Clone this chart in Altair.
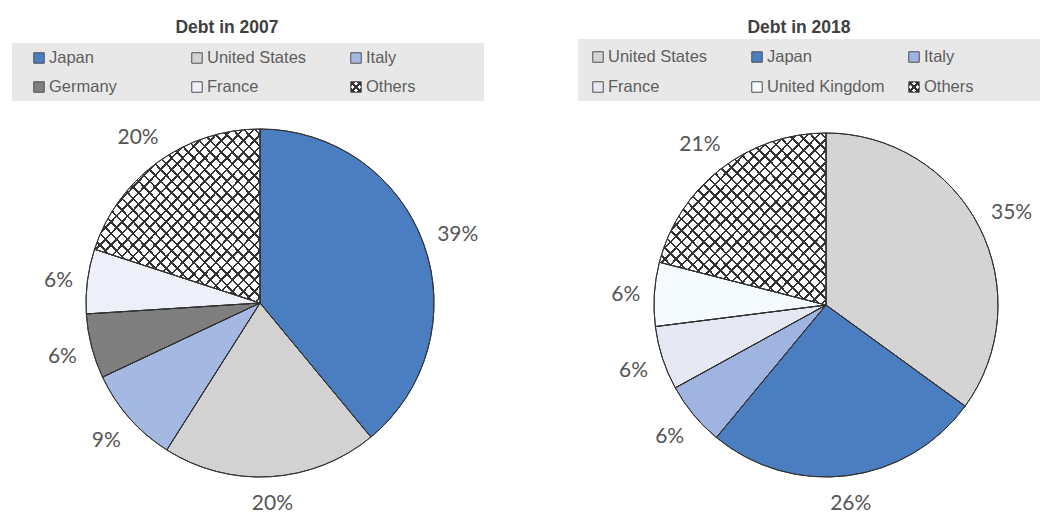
import altair as alt
import pandas as pd

# ---------------- data ----------------
titles = ["Debt in 2007", "Debt in 2018"]
years = ["2007", "2018"]
countries_2007 = ["Japan", "United States", "Italy", "Germany", "France", "Others"]
shares_2007 = [39, 20, 9, 6, 6, 20]
countries_2018 = ["United States", "Japan", "Italy", "France", "United Kingdom", "Others"]
shares_2018 = [35, 26, 6, 6, 6, 21]

# ---------------- styles ----------------
palette = {
    "2007": {"Japan": "#4A7EC0", "United States": "#D2D2D2", "Italy": "#A4B8E2",
             "Germany": "#7F7F7F", "France": "#EDF0F8", "Others": "#FFFFFF"},
    "2018": {"United States": "#D4D4D4", "Japan": "#4A7EC0", "Italy": "#9FB4E0",
             "France": "#E6E9F4", "United Kingdom": "#F4FAFD", "Others": "#FFFFFF"},
}
layout = {
    "2007": dict(cx=260, cy=303, r=174, box=(12, 484, 43, 101), title=(227, 28),
                 cols=[39, 197, 356], rows=[58, 87]),
    "2018": dict(cx=826, cy=305, r=172, box=(578, 1040, 39, 101), title=(799, 28),
                 cols=[598, 757, 914], rows=[57, 87]),
}
DARK = "#333333"
TEXT = "#555555"
CLEAR = "rgba(255,255,255,0)"


def hatch(n, w, forward, base):
    stops = [{"offset": 0, "color": base}]
    for i in range(n):
        a = (i + 0.5) / n - w / 2
        stops += [{"offset": a, "color": base}, {"offset": a, "color": DARK},
                  {"offset": a + w, "color": DARK}, {"offset": a + w, "color": base}]
    stops.append({"offset": 1, "color": base})
    g = {"gradient": "linear", "stops": stops, "y1": 0, "y2": 1}
    if forward:
        g.update(x1=0, x2=1)
    else:
        g.update(x1=1, x2=0)
    return g


keys, key_colors = [], []
for y in years:
    for c, col in palette[y].items():
        keys.append(y + "|" + c)
        key_colors.append(col)
fill_scale = alt.Scale(domain=keys, range=key_colors)
is_others = "datum.country === 'Others'"

layers = []
for y, title, countries, shares in zip(years, titles,
                                       [countries_2007, countries_2018],
                                       [shares_2007, shares_2018]):
    L = layout[y]
    df = pd.DataFrame({
        "country": countries,
        "value": shares,
        "order": list(range(len(countries))),
    })
    df["key"] = y + "|" + df["country"]
    df["label"] = df["value"].astype(str) + "%"
    df["lx"] = [L["cols"][i % 3] for i in range(len(countries))]
    df["ly"] = [L["rows"][i // 3] for i in range(len(countries))]

    x0, x1, y0, y1 = L["box"]
    one = pd.DataFrame({"title": [title]})
    bg = alt.Chart(one).mark_rect(color="#E8E8E8").encode(
        x=alt.value(x0), x2=alt.value(x1), y=alt.value(y0), y2=alt.value(y1))
    ttl = alt.Chart(one).mark_text(font="Liberation Sans", fontWeight="bold",
                                   fontSize=17.5, color="#404040",
                                   baseline="middle", align="center").encode(
        x=alt.value(L["title"][0]), y=alt.value(L["title"][1]), text="title:N")

    leg = alt.Chart(df)
    lxy = dict(x=alt.X("lx:Q", scale=None, axis=None), y=alt.Y("ly:Q", scale=None, axis=None))
    sw = leg.mark_square(size=110, opacity=1, stroke="#505050", strokeWidth=1).encode(
        fill=alt.condition(is_others, alt.value(hatch(3, 0.14, True, "#FFFFFF")),
                           alt.Fill("key:N", scale=fill_scale, legend=None)), **lxy)
    sw2 = leg.mark_square(size=110, opacity=1, strokeWidth=0).encode(
        fill=alt.condition(is_others, alt.value(hatch(3, 0.14, False, CLEAR)),
                           alt.value("transparent")), **lxy)
    lt = leg.mark_text(font="Liberation Sans", fontSize=16.5, color="#5E5E5E",
                       align="left", baseline="middle", dx=10).encode(
        text="country:N", **lxy)

    base = alt.Chart(df).encode(
        theta=alt.Theta("value:Q", stack=True),
        order=alt.Order("order:Q"),
        x=alt.value(L["cx"]), y=alt.value(L["cy"]))
    pie = base.mark_arc(radius=L["r"], stroke=DARK, strokeWidth=1).encode(
        fill=alt.Fill("key:N", scale=fill_scale, legend=None))
    h1 = base.mark_arc(radius=L["r"], strokeWidth=0).encode(
        fill=alt.condition(is_others, alt.value(hatch(30, 0.0075, True, CLEAR)),
                           alt.value("transparent")))
    h2 = base.mark_arc(radius=L["r"], strokeWidth=0).encode(
        fill=alt.condition(is_others, alt.value(hatch(30, 0.0075, False, CLEAR)),
                           alt.value("transparent")))
    edge = base.mark_arc(radius=L["r"], stroke=DARK, strokeWidth=1, fillOpacity=0).encode(
        fill=alt.value("transparent"))

    rad_expr = (f"{L['r']} + 13 + (length(datum.label) * 6 + 3) * abs(sin(datum.mid))"
                " + 10 * abs(cos(datum.mid))")
    pct = (
        alt.Chart(df)
        .transform_joinaggregate(total="sum(value)")
        .transform_window(cum="sum(value)", sort=[alt.SortField("order")], frame=[None, 0])
        .transform_calculate(mid="(datum.cum - datum.value / 2) / datum.total * 2 * PI")
        .transform_calculate(rad=rad_expr)
        .mark_text(font="Lato", fontSize=21, color=TEXT, align="center",
                   baseline="middle", dy=3)
        .encode(theta=alt.Theta("mid:Q", scale=None),
                radius=alt.Radius("rad:Q", scale=None),
                x=alt.value(L["cx"]), y=alt.value(L["cy"]),
                text="label:N")
    )

    layers += [bg, ttl, sw, sw2, lt, pie, h1, h2, edge, pct]

chart = alt.layer(*layers).properties(width=1040, height=514, padding=0,
                                      background="white").configure_view(stroke=None)
chart.save("out.html", embed_options={"renderer": "svg", "actions": False})
